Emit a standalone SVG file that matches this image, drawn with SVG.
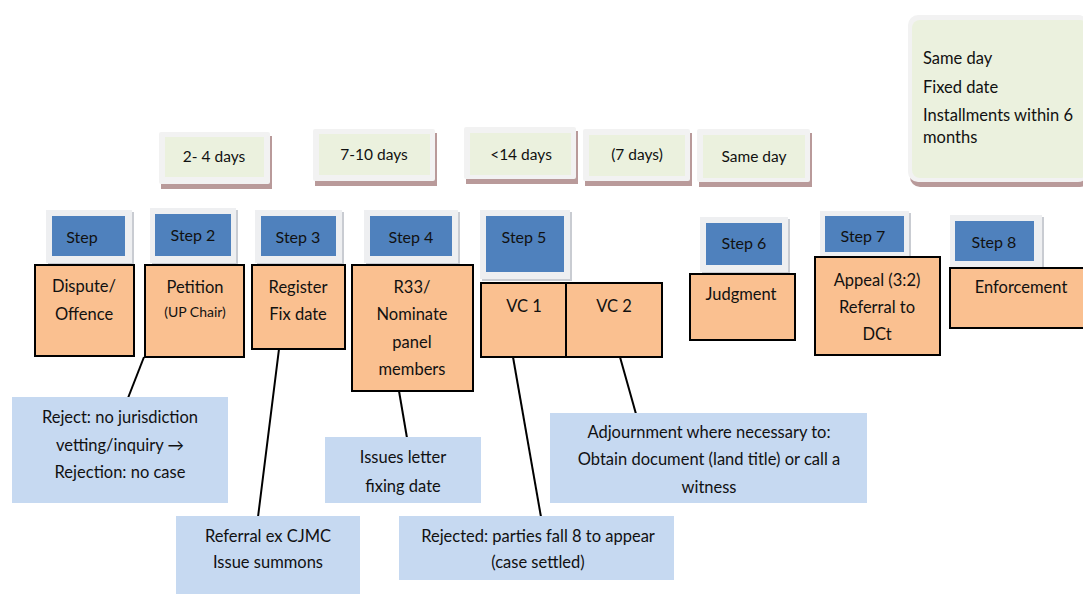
<svg xmlns="http://www.w3.org/2000/svg" width="1083" height="594" viewBox="0 0 1083 594">
<style>
text{font-family:Lato,"Liberation Sans",sans-serif;font-size:16.5px;fill:#111;text-anchor:middle}
.tl{text-anchor:start}
.sm{font-size:14px}
.st{font-size:16px}
.tt{font-size:15.5px}
.tshadow{fill:#b99a9a}
.tframe{fill:#f2f2f2}
.tinner{fill:#ebf1de}
.sshadow{fill:#c9ccd2}
.sframe{fill:#eeeff1}
.sblue{fill:#4f81bd}
.obox{fill:#fac090;stroke:#000;stroke-width:2}
.bbox{fill:#c6d9f1}
.conn line{stroke:#000;stroke-width:2}
</style>
<rect width="1083" height="594" fill="#fff"/>

<!-- timing boxes -->
<g id="t1"><rect class="tshadow" x="161" y="136" width="111" height="53"/><rect class="tframe" x="159" y="132" width="111" height="52" rx="2"/><rect class="tinner" x="165" y="137" width="99" height="40"/><text class="tt" x="214" y="162">2- 4 days</text></g>
<g id="t2"><rect class="tshadow" x="315" y="133" width="122" height="53"/><rect class="tframe" x="313" y="129" width="122" height="52" rx="2"/><rect class="tinner" x="319" y="134" width="111" height="41"/><text class="tt" x="374" y="160">7-10 days</text></g>
<g id="t3"><rect class="tshadow" x="466" y="131" width="112" height="53"/><rect class="tframe" x="464" y="127" width="112" height="52" rx="2"/><rect class="tinner" x="470" y="133" width="101" height="42"/><text class="tt" x="521" y="160">&lt;14 days</text></g>
<g id="t4"><rect class="tshadow" x="585" y="133" width="107" height="53"/><rect class="tframe" x="583" y="129" width="107" height="52" rx="2"/><rect class="tinner" x="589" y="135" width="96" height="41"/><text class="tt" x="637" y="160">(7 days)</text></g>
<g id="t5"><rect class="tshadow" x="699" y="133" width="113" height="54"/><rect class="tframe" x="697" y="129" width="113" height="53" rx="2"/><rect class="tinner" x="703" y="135" width="102" height="43"/><text class="tt" x="754" y="162">Same day</text></g>
<g id="t6"><rect class="tshadow" x="910" y="20" width="180" height="167" rx="10"/><rect class="tframe" x="908" y="15" width="180" height="167" rx="10"/><rect fill="#ebf1de" x="912" y="20" width="176" height="158" rx="8"/>
<text class="tl" x="923" y="64">Same day</text><text class="tl" x="923" y="93">Fixed date</text><text class="tl" x="923" y="121">Installments within 6</text><text class="tl" x="923" y="143">months</text></g>

<!-- step labels -->
<g id="s1"><rect class="sshadow" x="48" y="212" width="86" height="53"/><rect class="sframe" x="46" y="210" width="86" height="53"/><rect class="sblue" x="52" y="216" width="73" height="40"/><text class="st" x="82" y="243">Step</text></g>
<g id="s2"><rect class="sshadow" x="152" y="210" width="86" height="55"/><rect class="sframe" x="150" y="208" width="86" height="55"/><rect class="sblue" x="155" y="214" width="76" height="42"/><text class="st" x="193" y="241">Step 2</text></g>
<g id="s3"><rect class="sshadow" x="257" y="212" width="87" height="53"/><rect class="sframe" x="255" y="210" width="87" height="53"/><rect class="sblue" x="261" y="216" width="75" height="40"/><text class="st" x="298" y="243">Step 3</text></g>
<g id="s4"><rect class="sshadow" x="366" y="212" width="94" height="53"/><rect class="sframe" x="364" y="210" width="94" height="53"/><rect class="sblue" x="370" y="216" width="82" height="40"/><text class="st" x="411" y="243">Step 4</text></g>
<g id="s5"><rect class="sshadow" x="482" y="212" width="90" height="69"/><rect class="sframe" x="480" y="210" width="90" height="69"/><rect class="sblue" x="486" y="216" width="78" height="56"/><text class="st" x="524" y="243">Step 5</text></g>
<g id="s6"><rect class="sshadow" x="702" y="219" width="88" height="55"/><rect class="sframe" x="700" y="217" width="88" height="55"/><rect class="sblue" x="706" y="223" width="76" height="42"/><text class="st" x="744" y="249">Step 6</text></g>
<g id="s7"><rect class="sshadow" x="822" y="213" width="89" height="47"/><rect class="sframe" x="820" y="211" width="89" height="47"/><rect class="sblue" x="825" y="216" width="79" height="36"/><text class="st" x="863" y="242">Step 7</text></g>
<g id="s8"><rect class="sshadow" x="952" y="217" width="92" height="52"/><rect class="sframe" x="950" y="215" width="92" height="52"/><rect class="sblue" x="955" y="221" width="79" height="40"/><text class="st" x="994" y="248">Step 8</text></g>

<!-- orange step boxes -->
<g id="n1"><rect class="obox" x="35" y="265" width="99" height="91"/><text x="84" y="292">Dispute/</text><text x="84" y="320">Offence</text></g>
<g id="n2"><rect class="obox" x="145" y="265" width="99" height="92"/><text x="195" y="293">Petition</text><text class="sm" x="195" y="317">(UP Chair)</text></g>
<g id="n3"><rect class="obox" x="252" y="265" width="93" height="84"/><text x="298" y="293">Register</text><text x="298" y="320">Fix date</text></g>
<g id="n4"><rect class="obox" x="352" y="265" width="121" height="126"/><text x="412" y="293">R33/</text><text x="412" y="320">Nominate</text><text x="412" y="348">panel</text><text x="412" y="375">members</text></g>
<g id="n5"><rect class="obox" x="481" y="283" width="181" height="74"/><line x1="566" y1="283" x2="566" y2="357" stroke="#000" stroke-width="2"/><text x="524" y="312">VC 1</text><text x="614" y="312">VC 2</text></g>
<g id="n6"><rect class="obox" x="690" y="274" width="105" height="66"/><text x="741" y="300">Judgment</text></g>
<g id="n7"><rect class="obox" x="815" y="257" width="125" height="98"/><text x="877" y="286">Appeal (3:2)</text><text x="877" y="313">Referral to</text><text x="877" y="340">DCt</text></g>
<g id="n8"><rect class="obox" x="950" y="268" width="140" height="60"/><text x="1021" y="293">Enforcement</text></g>

<!-- connectors -->
<g id="connectors" class="conn">
<line x1="144" y1="357" x2="128" y2="398"/>
<line x1="279" y1="349" x2="258" y2="517"/>
<line x1="399" y1="391" x2="407" y2="438"/>
<line x1="513" y1="357" x2="541" y2="517"/>
<line x1="620" y1="357" x2="636" y2="414"/>
</g>

<!-- note boxes -->
<g id="b1"><rect class="bbox" x="12" y="397" width="216" height="106"/><text x="120" y="423">Reject: no jurisdiction</text><text x="120" y="451">vetting/inquiry →</text><text x="120" y="478">Rejection: no case</text></g>
<g id="b2"><rect class="bbox" x="325" y="437" width="156" height="66"/><text x="403" y="463">Issues letter</text><text x="403" y="492">fixing date</text></g>
<g id="b3"><rect class="bbox" x="176" y="516" width="184" height="78"/><text x="268" y="542">Referral ex CJMC</text><text x="268" y="568">Issue summons</text></g>
<g id="b4"><rect class="bbox" x="399" y="516" width="275" height="64"/><text x="538" y="542">Rejected: parties fall 8 to appear</text><text x="538" y="568">(case settled)</text></g>
<g id="b5"><rect class="bbox" x="550" y="413" width="317" height="90"/><text x="709" y="438">Adjournment where necessary to:</text><text x="709" y="465">Obtain document (land title) or call a</text><text x="709" y="493">witness</text></g>
</svg>
